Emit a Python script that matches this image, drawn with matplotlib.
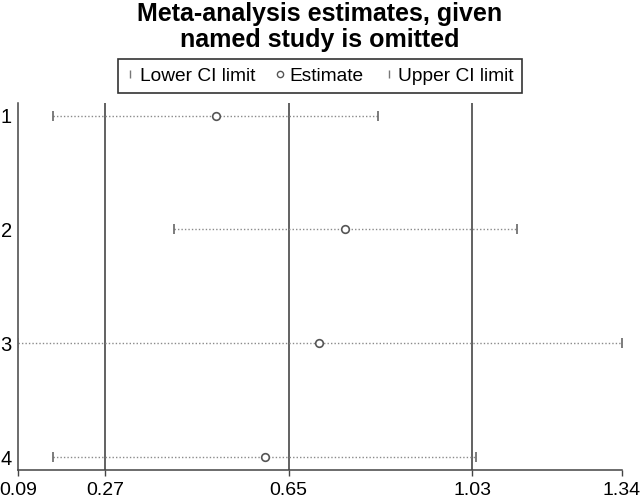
import matplotlib
matplotlib.use("Agg")
import matplotlib.pyplot as plt
from matplotlib.lines import Line2D

plt.rcParams['font.family'] = ['Liberation Sans', 'DejaVu Sans']

studies = ["1", "2", "3", "4"]
lower = [0.162, 0.413, 0.09, 0.162]
estimate = [0.499, 0.767, 0.713, 0.601]
upper = [0.835, 1.123, 1.34, 1.038]
overall = [0.27, 0.65, 1.03]
xticks = [0.09, 0.27, 0.65, 1.03, 1.34]
xticklabels = ["0.09", "0.27", "0.65", "1.03", "1.34"]

W, H = 640, 500
fig = plt.figure(figsize=(W / 100, H / 100), dpi=100)
left, right, top, bottom = 18, 622, 103, 470
ax = fig.add_axes([left / W, 1 - bottom / H, (right - left) / W, (bottom - top) / H])

ypos = list(range(1, len(studies) + 1))
ax.set_xlim(0.09, 1.34)
ax.set_ylim(4.114, 0.89)

for v in overall:
    ax.axvline(v, color='#555555', lw=1.3, zorder=1)

ax.hlines(ypos, lower, upper, colors='#8a8a8a', linestyles=(0, (1, 1.5)), lw=1.0, zorder=2)
ax.plot(lower, ypos, ls='none', marker='|', ms=7.5, mew=1.2, color='#666666', zorder=3)
ax.plot(upper, ypos, ls='none', marker='|', ms=7.5, mew=1.2, color='#666666', zorder=3)
ax.plot(estimate, ypos, ls='none', marker='o', ms=5.5, mfc='white', mec='#555555', mew=1.2, zorder=4)

ax.set_yticks(ypos)
ax.set_yticklabels(studies)
ax.set_xticks(xticks)
ax.set_xticklabels(xticklabels)
ax.tick_params(axis='y', length=0, pad=4.5, labelsize=14.5)
ax.tick_params(axis='x', length=4.5, width=1, color='#444444', pad=3.8, labelsize=14)
for s in ['top', 'right']:
    ax.spines[s].set_visible(False)
for s in ['left', 'bottom']:
    ax.spines[s].set_color('#444444')
    ax.spines[s].set_linewidth(1.1)

fig.text(0.5, 1 - 2 / H, "Meta-analysis estimates, given\nnamed study is omitted",
         ha='center', va='top', fontsize=18, fontweight='bold', linespacing=1.12)

handles = [
    Line2D([], [], ls='none', marker='|', ms=6, mew=1.0, color='#777777'),
    Line2D([], [], ls='none', marker='o', ms=4.5, mfc='white', mec='#555555', mew=1.0),
    Line2D([], [], ls='none', marker='|', ms=6, mew=1.0, color='#777777'),
]
leg = fig.legend(handles, ["Lower CI limit", "Estimate", "Upper CI limit"],
                 loc='center', bbox_to_anchor=(320 / W, 1 - 76 / H), ncol=3,
                 fontsize=13.8, frameon=True, fancybox=False, edgecolor='black',
                 handlelength=0.4, handletextpad=0.3, columnspacing=1.1,
                 borderpad=0.45, borderaxespad=0)
leg.get_frame().set_linewidth(1.2)

fig.savefig("out.png", dpi=100)
